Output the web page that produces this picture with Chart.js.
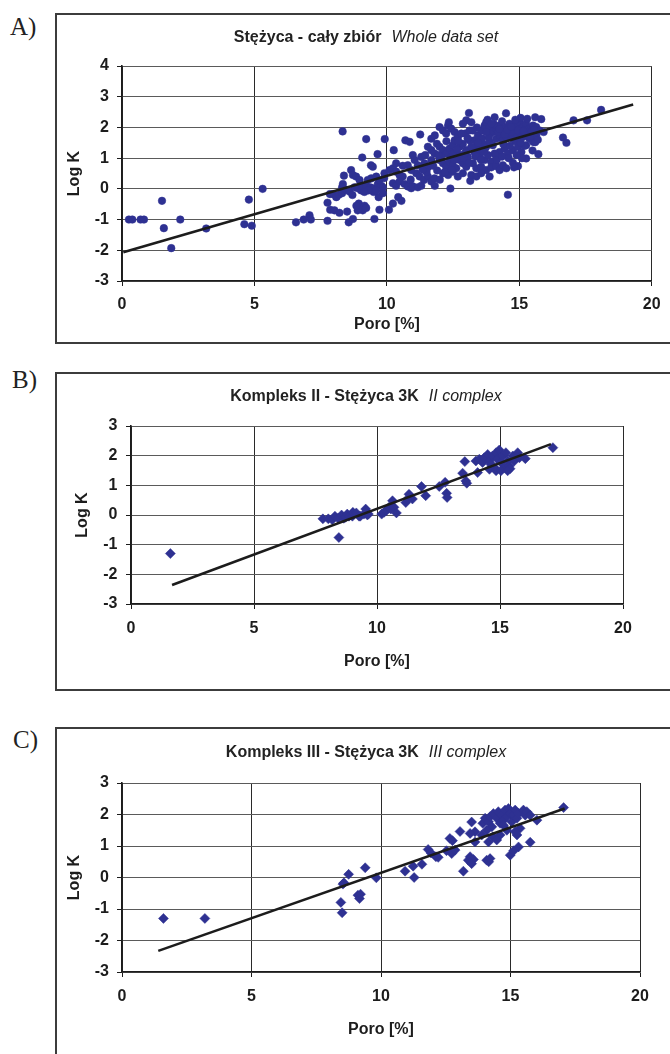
<!DOCTYPE html>
<html>
<head>
<meta charset="utf-8">
<title>Stężyca - Log K vs Poro</title>
<script src="https://cdn.jsdelivr.net/npm/chart.js@4.4.0/dist/chart.umd.min.js"></script>
<style>
    body { margin: 0; background: #fff; width: 670px; height: 1054px; overflow: hidden; position: relative; }
    .frame { position: absolute; left: 55px; width: 640px; border: 2px solid #3c3c3c; border-right: none; }
    .panel-label { position: absolute; font-family: "Liberation Serif", "Times New Roman", serif; font-size: 25px; line-height: 1; color: #222; }
    canvas { position: absolute; }
</style>
</head>
<body>
<div class="frame" style="top:13px;height:327px;"></div>
<div class="frame" style="top:372px;height:315px;"></div>
<div class="frame" style="top:727px;height:400px;"></div>

<div class="panel-label" style="left:10px;top:14px;">A)</div>
<div class="panel-label" style="left:12px;top:367px;">B)</div>
<div class="panel-label" style="left:13px;top:727px;">C)</div>

<canvas id="chartA" width="614" height="327" style="left:56px;top:15px;"></canvas>
<canvas id="chartB" width="614" height="316" style="left:56px;top:374px;"></canvas>
<canvas id="chartC" width="614" height="325" style="left:56px;top:729px;"></canvas>

<script>
// A) whole data set - porosity [%] and log K
const poroA = [
    0.26, 0.39, 0.70, 0.83, 1.51, 1.58, 1.86, 2.20, 3.18, 4.62,
    4.90, 4.79, 5.31, 6.57, 6.86, 7.08, 7.13, 7.76, 7.76, 7.85,
    7.97, 8.10, 7.86, 8.02, 8.21, 8.50, 8.56, 8.72, 8.09, 8.19,
    8.31, 8.34, 8.31, 8.38, 8.33, 8.65, 8.72, 8.46, 8.59, 8.78,
    8.90, 9.03, 9.09, 9.22, 9.37, 9.47, 9.66, 9.79, 9.85, 8.94,
    9.00, 9.16, 9.09, 8.90, 9.22, 9.53, 9.72, 10.08, 9.69, 9.85,
    9.07, 9.22, 9.92, 9.65, 9.40, 9.47, 8.84, 8.97, 9.28, 9.41,
    9.60, 9.72, 9.91, 10.10, 10.23, 10.35, 10.48, 10.60, 10.23, 10.35,
    10.48, 10.67, 10.79, 10.92, 10.43, 10.55, 10.23, 10.26, 10.70, 10.86,
    10.98, 11.26, 11.05, 11.17, 11.30, 11.42, 11.55, 11.68, 11.11, 11.24,
    11.40, 11.55, 11.68, 11.80, 10.98, 11.17, 11.30, 11.81, 11.68, 11.81,
    11.89, 11.99, 12.12, 12.24, 12.31, 12.43, 12.56, 11.99, 12.12, 12.24,
    12.37, 12.49, 12.62, 12.75, 12.87, 11.99, 12.12, 12.24, 12.37, 12.49,
    12.62, 12.75, 12.87, 13.00, 12.12, 12.31, 12.49, 12.68, 12.87, 12.40,
    13.15, 12.96, 13.12, 13.00, 13.19, 13.10, 12.68, 12.81, 12.43, 12.56,
    12.68, 12.81, 12.87, 12.34, 11.68, 11.80, 11.55, 10.92, 10.79, 10.35,
    13.31, 13.44, 13.56, 13.69, 13.75, 13.88, 14.00, 14.13, 14.26, 14.38,
    14.51, 14.63, 14.76, 14.89, 15.01, 15.14, 15.26, 15.39, 15.52, 15.64,
    15.77, 13.38, 13.50, 13.63, 13.75, 13.88, 14.00, 14.13, 14.26, 14.38,
    14.51, 14.63, 14.76, 14.89, 15.01, 15.14, 15.26, 15.39, 15.52, 15.64,
    13.50, 13.69, 13.82, 13.94, 14.07, 14.26, 14.45, 14.57, 14.76, 14.95,
    15.08, 15.26, 13.25, 13.38, 13.56, 13.75, 13.94, 14.13, 14.26, 14.38,
    14.51, 14.76, 13.19, 13.38, 13.56, 13.88, 14.95, 14.80, 15.26, 15.72,
    15.20, 15.60, 14.57, 14.07, 14.50, 15.05, 15.60, 15.83, 15.92, 16.65,
    16.78, 17.05, 17.56, 18.09, 13.00, 13.06, 13.12, 13.19, 13.60, 13.90,
    14.20, 14.45, 14.70, 14.95, 15.20, 15.45, 13.40, 13.80, 14.35, 14.85,
    15.30, 12.70, 12.50, 12.90, 13.10, 11.90, 12.00, 11.50, 10.90, 10.60,
    9.50, 9.30, 8.70, 9.90, 13.30, 13.70, 14.10, 14.60, 15.10, 15.50,
    11.45, 11.75, 12.05, 12.20, 12.45, 12.65, 12.95, 13.05, 13.25, 13.45,
    13.65, 13.85, 14.05, 14.25, 14.40, 14.55, 14.70, 14.85, 15.00, 15.15,
    15.35, 15.55, 15.70, 13.35, 13.55, 13.75, 13.95, 14.15, 14.35, 14.65,
    14.90, 15.05, 15.40, 12.25, 12.55, 11.35, 11.95, 9.15, 8.85, 9.60
];
const logKA = [
    -1.00, -1.00, -1.00, -1.00, -0.39, -1.28, -1.93, -1.00, -1.29, -1.15,
    -1.20, -0.35, 0.00, -1.09, -1.00, -0.86, -1.00, -1.04, -0.45, -0.17,
    -0.17, -0.25, -0.68, -0.70, -0.78, -0.74, -1.09, -0.98, -0.27, -0.19,
    -0.14, 0.16, 0.05, 0.43, 1.87, 0.61, 0.45, -0.03, -0.09, 0.05,
    0.02, -0.05, 0.08, 0.10, 0.05, 0.02, 0.16, 0.10, 0.05, -0.48,
    -0.62, -0.55, -0.70, -0.70, -0.62, -0.98, -0.68, -0.68, -0.27, -0.14,
    1.02, 1.62, 1.62, 1.13, 0.77, 0.72, 0.40, 0.29, 0.29, 0.34,
    0.40, 0.29, 0.51, 0.61, 0.67, 0.56, 0.45, 0.40, 0.18, 0.10,
    0.24, 0.16, 0.08, 0.02, -0.27, -0.39, -0.48, 1.26, 1.58, 1.53,
    1.10, 1.77, 0.94, 0.77, 1.04, 0.83, 0.70, 0.94, 0.51, 0.40,
    0.29, 0.40, 0.24, 0.34, 0.08, 0.05, 0.10, 0.10, 1.63, 1.74,
    1.47, 2.01, 1.90, 1.80, 2.06, 1.96, 1.85, 1.37, 1.26, 1.15,
    1.31, 1.42, 1.20, 1.37, 1.47, 0.94, 0.83, 0.72, 0.88, 0.77,
    0.67, 0.94, 0.83, 0.72, 0.51, 0.45, 0.56, 0.40, 0.51, 0.01,
    0.26, 1.80, 1.90, 2.23, 2.17, 2.47, 0.99, 1.10, 1.04, 1.58,
    1.69, 1.80, 2.12, 2.17, 1.26, 1.15, 1.37, 0.61, 0.77, 0.83,
    1.58, 1.74, 1.90, 2.06, 2.17, 2.01, 1.85, 1.96, 2.06, 1.90,
    2.01, 2.12, 1.96, 2.06, 2.17, 2.01, 2.12, 1.96, 2.06, 2.01,
    1.90, 1.37, 1.26, 1.47, 1.37, 1.53, 1.42, 1.63, 1.74, 1.58,
    1.69, 1.80, 1.63, 1.74, 1.85, 1.69, 1.80, 1.63, 1.53, 1.74,
    1.04, 0.94, 1.10, 0.88, 1.15, 1.20, 1.31, 1.15, 1.26, 1.37,
    1.20, 1.42, 0.83, 0.67, 0.72, 0.61, 0.70, 0.74, 0.61, 0.77,
    0.67, 0.85, 0.45, 0.40, 0.51, 0.40, 0.74, 0.70, 0.99, 1.13,
    1.40, 1.52, -0.19, 2.33, 2.46, 2.31, 2.33, 2.27, 1.85, 1.67,
    1.50, 2.23, 2.23, 2.57, 1.26, 1.04, 1.58, 1.37, 1.65, 1.80,
    1.85, 1.78, 1.85, 1.90, 1.92, 1.85, 2.00, 2.25, 2.20, 2.25,
    2.28, 1.55, 1.15, 1.00, 0.85, 0.60, 0.30, 0.55, 0.30, 0.75,
    -0.10, -0.05, -0.20, 0.35, 1.20, 1.30, 1.10, 1.00, 1.00, 1.25,
    1.10, 0.75, 1.05, 0.55, 0.62, 1.28, 1.15, 1.65, 1.90, 1.50,
    1.20, 1.68, 2.10, 1.95, 1.45, 1.92, 2.02, 1.55, 1.62, 1.88,
    1.72, 1.92, 1.60, 1.05, 0.95, 1.85, 2.12, 0.95, 1.05, 1.40,
    1.10, 1.50, 1.70, 1.55, 0.95, 0.62, 1.10, -0.10, -0.55, -0.05
];

// B) complex II
const poroB = [
    1.60, 7.80, 8.02, 8.18, 8.29, 8.42, 8.45, 8.56, 8.65, 8.72,
    8.79, 8.86, 9.00, 9.02, 9.16, 9.27, 9.32, 9.47, 9.54, 9.61,
    9.65, 10.19, 10.29, 10.38, 10.49, 10.56, 10.63, 10.69, 10.79, 11.17,
    11.24, 11.30, 11.44, 11.81, 11.98, 12.53, 12.77, 12.83, 12.85, 13.48,
    13.61, 13.65, 13.57, 14.09, 14.02, 14.16, 14.29, 14.36, 14.50, 14.57,
    14.63, 14.70, 14.77, 14.84, 14.90, 14.97, 15.04, 15.11, 15.18, 15.24,
    15.31, 15.38, 15.41, 15.52, 15.58, 15.72, 15.79, 16.03, 17.15, 14.57,
    14.84, 15.04, 15.31
];
const logKB = [
    -1.30, -0.13, -0.13, -0.16, -0.04, -0.11, -0.76, 0.00, -0.11, -0.08,
    0.03, -0.04, -0.04, 0.09, 0.07, -0.04, -0.04, 0.03, 0.20, 0.00,
    0.03, 0.03, 0.09, 0.15, 0.26, 0.20, 0.48, 0.26, 0.07, 0.42,
    0.54, 0.70, 0.54, 0.96, 0.65, 0.96, 1.10, 0.73, 0.59, 1.41,
    1.15, 1.07, 1.80, 1.43, 1.82, 1.88, 1.77, 1.93, 2.04, 1.82,
    1.71, 1.99, 1.60, 2.10, 1.88, 2.19, 1.77, 1.99, 1.60, 2.10,
    1.82, 1.65, 1.56, 1.99, 1.82, 2.10, 1.93, 1.90, 2.27, 1.54,
    1.49, 1.49, 1.49
];

// C) complex III
const poroC = [
    1.60, 3.20, 8.53, 8.57, 8.75, 9.39, 9.82, 8.45, 8.50, 9.11,
    9.17, 9.21, 10.93, 11.28, 11.24, 11.58, 11.82, 11.93, 12.12, 12.21,
    12.53, 12.66, 12.76, 12.73, 12.86, 13.05, 13.18, 13.37, 13.44, 13.57,
    13.50, 13.50, 13.63, 13.63, 13.44, 14.08, 14.16, 14.21, 14.15, 14.32,
    13.93, 14.02, 14.15, 14.21, 14.34, 14.47, 14.53, 14.60, 14.66, 14.73,
    14.79, 14.86, 14.92, 14.99, 15.05, 15.12, 15.18, 15.25, 15.31, 15.37,
    15.50, 15.57, 15.63, 15.76, 16.02, 14.60, 14.47, 14.28, 14.08, 13.89,
    15.18, 15.25, 14.86, 14.73, 14.99, 15.12, 15.31, 15.76, 17.05
];
const logKC = [
    -1.30, -1.30, -0.21, -0.17, 0.10, 0.31, -0.01, -0.79, -1.12, -0.56,
    -0.67, -0.53, 0.20, 0.00, 0.36, 0.42, 0.89, 0.78, 0.66, 0.64,
    0.85, 1.24, 1.17, 0.76, 0.87, 1.46, 0.20, 0.55, 0.66, 0.57,
    0.44, 1.76, 1.45, 1.13, 1.40, 0.55, 0.50, 0.60, 1.13, 1.29,
    1.72, 1.88, 1.77, 1.93, 2.03, 1.88, 2.09, 1.72, 1.98, 1.82,
    2.14, 1.93, 2.19, 2.03, 1.77, 1.98, 2.14, 1.88, 2.03, 1.56,
    2.14, 1.98, 2.09, 1.98, 1.82, 1.35, 1.19, 1.61, 1.50, 1.35,
    1.45, 1.35, 1.50, 1.66, 0.71, 0.85, 0.97, 1.12, 2.22
];

// regression lines (end points)
const trendAX = [0.05, 19.3];
const trendAY = [-2.06, 2.75];
const trendBX = [1.67, 17.07];
const trendBY = [-2.36, 2.39];
const trendCX = [1.40, 17.09];
const trendCY = [-2.33, 2.19];

const xTicks = [0, 5, 10, 15, 20];

const FONT = "'Liberation Sans', Arial, Helvetica, sans-serif";
const DOT = '#2e3192';
const INK = '#1c1c1c';

Chart.defaults.font.family = FONT;

// Function to zip two arrays into scatter points
function pairs(xs, ys) {
    return xs.map((x, i) => ({ x: x, y: ys[i] }));
}

// Draws "bold text  italic text" centered, like the original title
const mixedTitle = {
    id: 'mixedTitle',
    afterDraw(chart, args, opts) {
        const ctx = chart.ctx;
        ctx.save();
        const boldFont = 'bold 16px ' + FONT;
        const italFont = 'italic 16px ' + FONT;
        ctx.font = boldFont;
        const w1 = ctx.measureText(opts.bold).width;
        ctx.font = italFont;
        const w2 = ctx.measureText(opts.italic).width;
        const gap = 10;
        const x0 = opts.cx - (w1 + gap + w2) / 2;
        ctx.fillStyle = '#222';
        ctx.textBaseline = 'alphabetic';
        ctx.textAlign = 'left';
        ctx.font = boldFont;
        ctx.fillText(opts.bold, x0, opts.y);
        ctx.font = italFont;
        ctx.fillText(opts.italic, x0 + w1 + gap, opts.y);
        ctx.restore();
    }
};

function makeChart(id, cfg) {
    const ctx = document.getElementById(id).getContext('2d');
    const H = ctx.canvas.height;

    return new Chart(ctx, {
        type: 'scatter',
        data: {
            datasets: [{
                data: pairs(cfg.trendX, cfg.trendY),
                showLine: true,
                borderColor: INK,
                borderWidth: 2.6,
                pointRadius: 0,
                fill: false
            }, {
                data: pairs(cfg.x, cfg.y),
                pointStyle: cfg.pointStyle,
                pointRadius: cfg.radius,
                backgroundColor: DOT,
                borderColor: DOT,
                borderWidth: 0.5
            }]
        },
        options: {
            responsive: false,
            animation: false,
            devicePixelRatio: 1,
            layout: {
                padding: { left: 0, top: cfg.plotTop, right: cfg.padRight, bottom: 0 }
            },
            plugins: {
                legend: { display: false },
                tooltip: { enabled: false },
                mixedTitle: { bold: cfg.titleBold, italic: cfg.titleItalic, cx: 310, y: cfg.titleY }
            },
            scales: {
                x: {
                    type: 'linear',
                    min: 0, max: 20,
                    afterBuildTicks: axis => { axis.ticks = xTicks.map(v => ({ value: v })); },
                    ticks: {
                        padding: cfg.xTickPad, maxRotation: 0,
                        color: INK, font: { size: 16, weight: 'bold' }
                    },
                    grid: { color: '#2a2a2a', lineWidth: 1, tickLength: 5, tickColor: INK },
                    border: { color: INK, width: 1.6 },
                    title: {
                        display: true, text: 'Poro [%]', color: INK,
                        font: { size: 16, weight: 'bold' },
                        padding: { top: 0, bottom: cfg.xTitlePad }
                    },
                    afterFit: scale => { scale.height = H - cfg.plotBottom; }
                },
                y: {
                    type: 'linear',
                    min: -3, max: cfg.yMax,
                    ticks: {
                        stepSize: 1, padding: cfg.yTickPad,
                        color: INK, font: { size: 16, weight: 'bold' }
                    },
                    grid: { color: '#5a5a5a', lineWidth: 1, tickLength: 5, tickColor: INK },
                    border: { color: INK, width: 1.6 },
                    title: {
                        display: true, text: 'Log K', color: INK,
                        font: { size: 16, weight: 'bold' },
                        padding: { top: cfg.yTitlePad, bottom: 0 }
                    },
                    afterFit: scale => { scale.width = cfg.plotLeft; }
                }
            }
        },
        plugins: [mixedTitle]
    });
}

makeChart('chartA', {
    x: poroA, y: logKA, trendX: trendAX, trendY: trendAY,
    pointStyle: 'circle', radius: 3.8, yMax: 4,
    plotLeft: 66, padRight: 18, plotTop: 51, plotBottom: 266,
    xTickPad: 9.4, xTitlePad: 7.4, yTickPad: 8, yTitlePad: 9.4,
    titleBold: 'Stężyca - cały zbiór', titleItalic: 'Whole data set', titleY: 26.7
});

makeChart('chartB', {
    x: poroB, y: logKB, trendX: trendBX, trendY: trendBY,
    pointStyle: 'rectRot', radius: 5, yMax: 3,
    plotLeft: 75, padRight: 47, plotTop: 52, plotBottom: 230,
    xTickPad: 10.4, xTitlePad: 18.4, yTickPad: 8.5, yTitlePad: 17.4,
    titleBold: 'Kompleks II - Stężyca 3K', titleItalic: 'II complex', titleY: 26.5
});

makeChart('chartC', {
    x: poroC, y: logKC, trendX: trendCX, trendY: trendCY,
    pointStyle: 'rectRot', radius: 5, yMax: 3,
    plotLeft: 66, padRight: 30, plotTop: 54, plotBottom: 243,
    xTickPad: 10.4, xTitlePad: 14.4, yTickPad: 8, yTitlePad: 9.4,
    titleBold: 'Kompleks III - Stężyca 3K', titleItalic: 'III complex', titleY: 27.5
});
</script>
</body>
</html>
